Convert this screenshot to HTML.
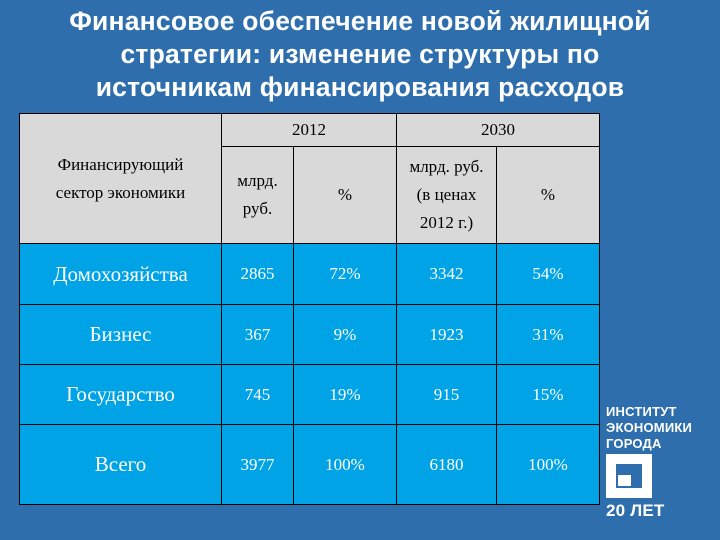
<!DOCTYPE html>
<html><head><meta charset="utf-8"><style>
body{margin:0;width:720px;height:540px;background:#2e6ead;overflow:hidden;position:relative;font-family:"Liberation Sans",sans-serif}
#title{position:absolute;left:0;top:5px;width:720px;text-align:center;color:#fff;font-weight:bold;font-size:26.5px;line-height:33px;letter-spacing:0.2px}
table{position:absolute;left:19px;top:113px;border-collapse:collapse;font-family:"Liberation Serif",serif}
td{border:1px solid #000;text-align:center;padding:0;font-family:"Liberation Serif",serif}
.h td{background:#d9d9d9;color:#000;font-size:17px;line-height:28px}
.d td{background:#00a3e6;color:#fff;font-size:17px}
.d td.n{font-size:21px}
#logo{position:absolute;left:606px;top:404px;color:#fff;font-weight:bold;font-size:13px;line-height:16px;letter-spacing:0.2px}
</style></head><body>
<div id="title">Финансовое обеспечение новой жилищной<br>стратегии: изменение структуры по<br>источникам финансирования расходов</div>
<table>
<tr class="h" style="height:33px"><td rowspan="2" style="width:201px">Финансирующий<br>сектор экономики</td><td colspan="2">2012</td><td colspan="2">2030</td></tr>
<tr class="h" style="height:97px"><td style="width:71px">млрд.<br>руб.</td><td style="width:102px">%</td><td style="width:99px">млрд. руб.<br>(в ценах<br>2012 г.)</td><td style="width:102px">%</td></tr>
<tr class="d" style="height:61px"><td class="n">Домохозяйства</td><td>2865</td><td>72%</td><td>3342</td><td>54%</td></tr>
<tr class="d" style="height:60px"><td class="n">Бизнес</td><td>367</td><td>9%</td><td>1923</td><td>31%</td></tr>
<tr class="d" style="height:60px"><td class="n">Государство</td><td>745</td><td>19%</td><td>915</td><td>15%</td></tr>
<tr class="d" style="height:80px"><td class="n">Всего</td><td>3977</td><td>100%</td><td>6180</td><td>100%</td></tr>
</table>
<div id="logo">ИНСТИТУТ<br>ЭКОНОМИКИ<br>ГОРОДА
<div style="position:relative;width:46px;height:44px;background:#fff;margin-top:2px">
<div style="position:absolute;left:10px;top:10px;width:26px;height:24px;background:#2e6ead"></div>
<div style="position:absolute;left:12px;top:21px;width:13px;height:11px;background:#fff"></div>
</div>
<div style="font-size:17px;line-height:22px;margin-top:2px">20 ЛЕТ</div></div>
</body></html>
